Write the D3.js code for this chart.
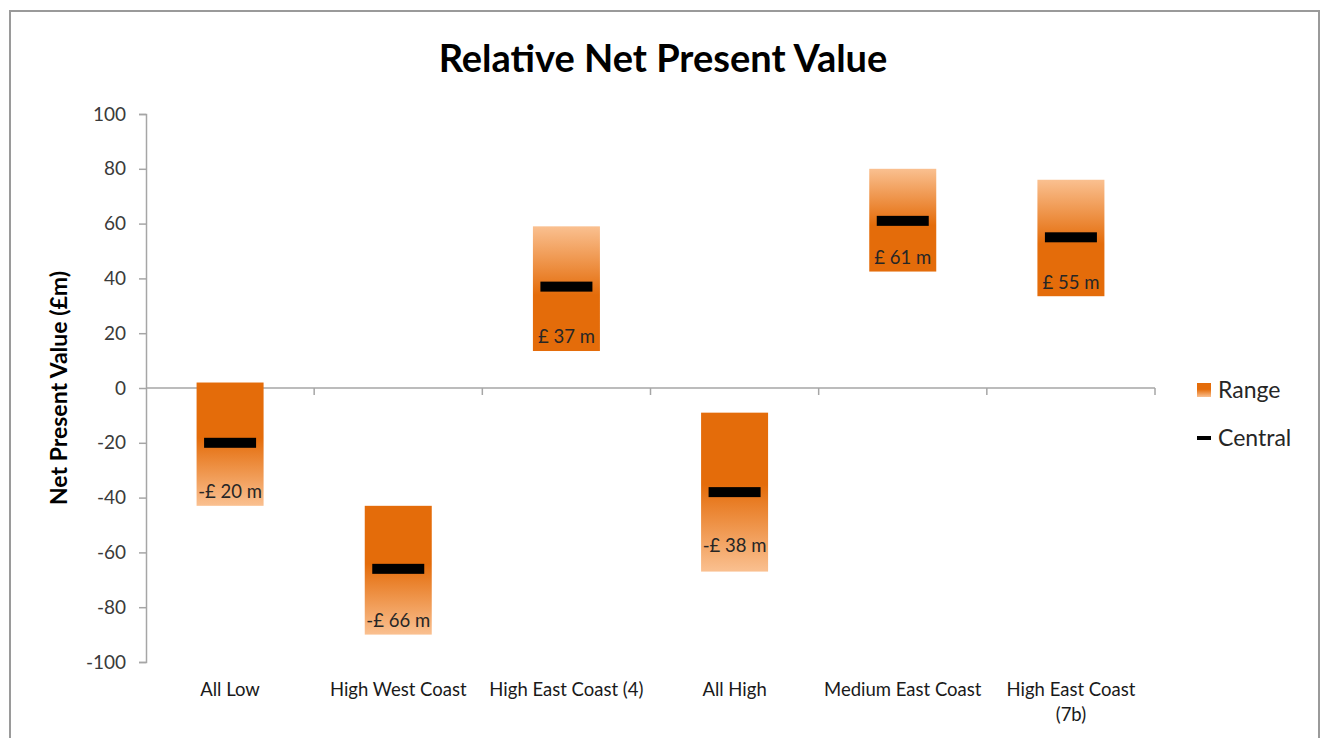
<!DOCTYPE html>
<html>
<head>
<meta charset="utf-8">
<script src="https://cdn.jsdelivr.net/npm/d3@7"></script>
<style>
  body { margin: 0; background: #fff; }
  svg { display: block; font-family: Lato, "Open Sans", sans-serif; }
</style>
</head>
<body>
<div id="chart"></div>
<script>
// values (£m)
const categories = ["All Low", "High West Coast", "High East Coast (4)", "All High", "Medium East Coast", "High East Coast (7b)"]
const rangeHigh = [2, -43, 59, -9, 80, 76]
const rangeLow = [-43, -90, 13.5, -67, 42.5, 33.5]
const central = [-20, -66, 37, -38, 61, 55]
const yTicks = [-100, -80, -60, -40, -20, 0, 20, 40, 60, 80, 100]

const W = 1327
const H = 738
const plotLeft = 146
const plotRight = 1155
const plotTop = 114
const plotBottom = 662

const svg = d3.select("#chart").append("svg")
    .attr("width", W)
    .attr("height", H)

// outer frame
svg.append("rect")
    .attr("x", 10).attr("y", 11)
    .attr("width", 1309).attr("height", 740)
    .attr("fill", "none")
    .attr("stroke", "#9a9a9a")
    .attr("stroke-width", 2)

const x = d3.scaleBand()
    .domain(categories)
    .range([plotLeft, plotRight])
    .paddingInner(0)
    .paddingOuter(0)

const y = d3.scaleLinear()
    .domain([-100, 100])
    .range([plotBottom, plotTop])

const defs = svg.append("defs")
const dark = "#e46c0a"
const light = "#fac090"

// gradient running dark -> light downward, and its mirror
const gDown = defs.append("linearGradient").attr("id", "gDown")
    .attr("x1", 0).attr("y1", 0).attr("x2", 0).attr("y2", 1)
gDown.append("stop").attr("offset", "0%").attr("stop-color", dark)
gDown.append("stop").attr("offset", "45%").attr("stop-color", dark)
gDown.append("stop").attr("offset", "100%").attr("stop-color", light)

const gUp = defs.append("linearGradient").attr("id", "gUp")
    .attr("x1", 0).attr("y1", 0).attr("x2", 0).attr("y2", 1)
gUp.append("stop").attr("offset", "0%").attr("stop-color", light)
gUp.append("stop").attr("offset", "55%").attr("stop-color", dark)
gUp.append("stop").attr("offset", "100%").attr("stop-color", dark)

// y axis
const yAxis = d3.axisLeft(y)
    .tickValues(yTicks)
    .tickFormat(d => String(d))
    .tickSize(7)
    .tickPadding(13)

const ya = svg.append("g")
    .attr("transform", `translate(${plotLeft},0)`)
    .call(yAxis)
ya.select(".domain").attr("stroke", "#a6a6a6").attr("stroke-width", 1.5)
ya.selectAll(".tick line").attr("stroke", "#a6a6a6").attr("stroke-width", 1.5)
ya.selectAll(".tick text")
    .attr("font-size", 19)
    .attr("fill", "#3a3a3a")
    .attr("font-family", "Lato, sans-serif")

// zero line with category ticks
svg.append("line")
    .attr("x1", plotLeft).attr("x2", plotRight)
    .attr("y1", y(0)).attr("y2", y(0))
    .attr("stroke", "#a6a6a6").attr("stroke-width", 1.5)

svg.selectAll(".cat-tick")
    .data(categories)
    .enter()
    .append("line")
    .attr("class", "cat-tick")
    .attr("x1", d => x(d) + x.bandwidth())
    .attr("x2", d => x(d) + x.bandwidth())
    .attr("y1", y(0)).attr("y2", y(0) + 7)
    .attr("stroke", "#a6a6a6").attr("stroke-width", 1.5)

const rows = categories.map((c, i) => ({
    cat: c, hi: rangeHigh[i], lo: rangeLow[i], mid: central[i]
}))

const barW = 67

svg.selectAll(".range")
    .data(rows)
    .enter()
    .append("rect")
    .attr("class", "range")
    .attr("x", d => x(d.cat) + x.bandwidth() / 2 - barW / 2)
    .attr("y", d => y(d.hi))
    .attr("width", barW)
    .attr("height", d => y(d.lo) - y(d.hi))
    .attr("fill", d => d.mid < 0 ? "url(#gDown)" : "url(#gUp)")

svg.selectAll(".central")
    .data(rows)
    .enter()
    .append("rect")
    .attr("class", "central")
    .attr("x", d => x(d.cat) + x.bandwidth() / 2 - 26)
    .attr("y", d => y(d.mid) - 5)
    .attr("width", 52)
    .attr("height", 10)
    .attr("fill", "#000")

const fmt = v => (v < 0 ? "-£ " : "£ ") + Math.abs(v) + " m"

svg.selectAll(".lbl")
    .data(rows)
    .enter()
    .append("text")
    .attr("class", "lbl")
    .attr("x", d => x(d.cat) + x.bandwidth() / 2)
    .attr("y", d => Math.min(y(d.mid) + 53, y(d.lo) - 14))
    .attr("dy", "0.35em")
    .attr("text-anchor", "middle")
    .attr("font-size", 18.5)
    .attr("fill", "#262626")
    .text(d => fmt(d.mid))

// category labels
const xl = svg.selectAll(".xlab")
    .data(categories)
    .enter()
    .append("text")
    .attr("class", "xlab")
    .attr("text-anchor", "middle")
    .attr("font-size", 18.5)
    .attr("fill", "#1a1a1a")
    .attr("x", d => x(d) + x.bandwidth() / 2)
    .attr("y", 696)

xl.each(function (d) {
    const t = d3.select(this)
    if (d === "High East Coast (7b)") {
        t.append("tspan").attr("x", x(d) + x.bandwidth() / 2).text("High East Coast")
        t.append("tspan").attr("x", x(d) + x.bandwidth() / 2).attr("dy", 25).text("(7b)")
    } else {
        t.text(d)
    }
})

// title
svg.append("text")
    .attr("x", 663).attr("y", 72)
    .attr("text-anchor", "middle")
    .attr("font-size", 38)
    .attr("font-weight", "bold")
    .attr("fill", "#000")
    .text("Relative Net Present Value")

// y title
svg.append("text")
    .attr("transform", `translate(67,${y(0)}) rotate(-90)`)
    .attr("text-anchor", "middle")
    .attr("font-size", 23)
    .attr("font-weight", "bold")
    .attr("fill", "#000")
    .text("Net Present Value (£m)")

// legend
const lg = svg.append("g").attr("transform", "translate(1197,0)")
lg.append("rect")
    .attr("x", 0).attr("y", 383).attr("width", 14).attr("height", 14)
    .attr("fill", "url(#gDown)")
lg.append("text")
    .attr("x", 21).attr("y", 390).attr("dy", "0.35em")
    .attr("font-size", 23).attr("fill", "#262626")
    .text("Range")
lg.append("rect")
    .attr("x", 0).attr("y", 436).attr("width", 14).attr("height", 4)
    .attr("fill", "#000")
lg.append("text")
    .attr("x", 21).attr("y", 438).attr("dy", "0.35em")
    .attr("font-size", 23).attr("fill", "#262626")
    .text("Central")
</script>
</body>
</html>
